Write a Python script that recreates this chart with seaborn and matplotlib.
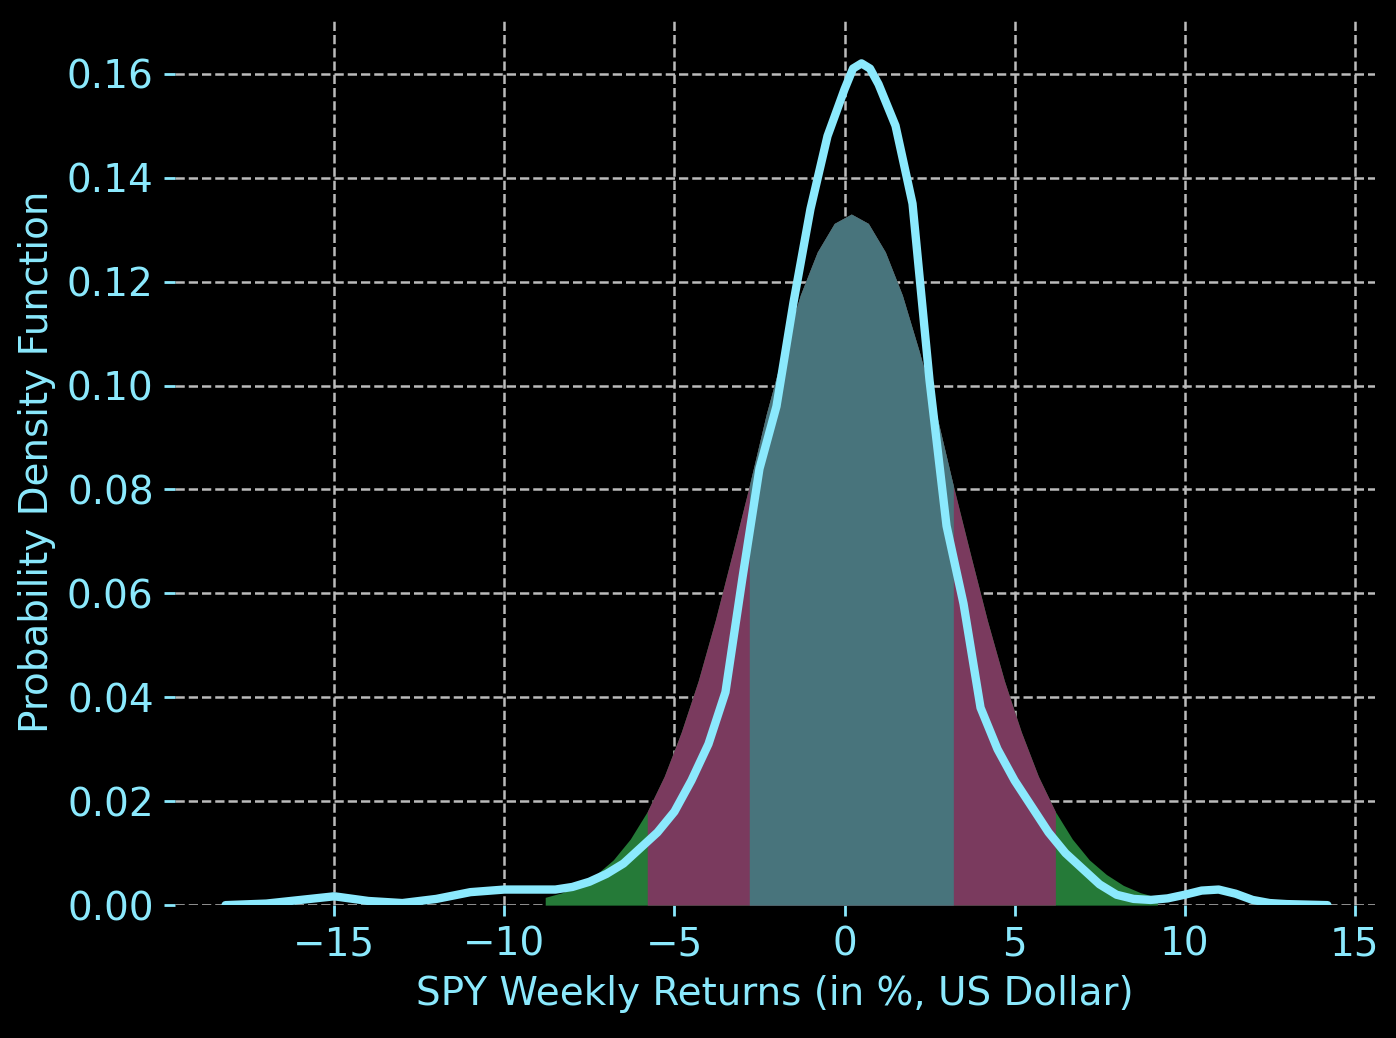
import numpy as np
import pandas as pd
import seaborn as sns
import matplotlib.pyplot as plt

norm_offset = [-9, -8.5, -8, -7.5, -7, -6.5, -6, -5.5, -5, -4.5, -4, -3.5, -3, -2.5, -2, -1.5, -1, -0.5,
               0, 0.5, 1, 1.5, 2, 2.5, 3, 3.5, 4, 4.5, 5, 5.5, 6, 6.5, 7, 7.5, 8, 8.5, 9]
norm_pdf = [0.0015, 0.0024, 0.0038, 0.0059, 0.0087, 0.0127, 0.0180, 0.0248, 0.0333, 0.0432, 0.0548,
            0.0676, 0.0807, 0.0945, 0.1065, 0.1174, 0.1257, 0.1312, 0.133, 0.1312, 0.1257, 0.1174,
            0.1065, 0.0945, 0.0807, 0.0676, 0.0548, 0.0432, 0.0333, 0.0248, 0.0180, 0.0127, 0.0087,
            0.0059, 0.0038, 0.0024, 0.0015]
norm_mean = 0.2
norm_sd = 3.0

# KDE of weekly returns
kde_x = [-18.2, -17, -16, -15, -14, -13, -12, -11, -10, -9, -8.5, -8, -7.5, -7, -6.5, -6, -5.5, -5,
         -4.5, -4, -3.5, -3, -2.5, -2, -1.5, -1, -0.5, 0, 0.25, 0.5, 0.75, 1, 1.5, 2, 2.5, 3, 3.5,
         4, 4.5, 5, 5.5, 6, 6.5, 7, 7.5, 8, 8.5, 9, 9.5, 10, 10.5, 11, 11.5, 12, 12.5, 13, 14.2]
kde_y = [0.0, 0.0003, 0.001, 0.0017, 0.0008, 0.0004, 0.0012, 0.0025, 0.003, 0.003, 0.003, 0.0035,
         0.0045, 0.006, 0.008, 0.011, 0.014, 0.018, 0.024, 0.031, 0.041, 0.063, 0.084, 0.096, 0.116,
         0.134, 0.148, 0.157, 0.161, 0.162, 0.161, 0.158, 0.150, 0.135, 0.101, 0.073, 0.058, 0.038,
         0.030, 0.024, 0.019, 0.014, 0.010, 0.007, 0.004, 0.002, 0.0012, 0.001, 0.0013, 0.002, 0.0028,
         0.003, 0.0022, 0.001, 0.0004, 0.0002, 0.0]

CYAN = '#8be9fd'
band_colors = ['#257a38', '#7a3a5e', '#48747c']

sns.set_theme(style='dark', rc={'axes.facecolor': 'black', 'figure.facecolor': 'black'})
plt.rcParams['font.family'] = ['DejaVu Sans']

fig, ax = plt.subplots(figsize=(6.98, 5.19), dpi=200)

nx = np.array(norm_offset)
ny = np.array(norm_pdf)
for k, col in zip([3, 2, 1], band_colors):
    m = np.abs(nx) <= k * norm_sd
    ax.fill_between(nx[m] + norm_mean, ny[m], color=col, lw=0)

df = pd.DataFrame({'x': kde_x, 'y': kde_y})
sns.lineplot(data=df, x='x', y='y', color=CYAN, lw=3, ax=ax)

ax.set_xticks([-15, -10, -5, 0, 5, 10, 15])
ax.set_yticks(np.arange(0, 0.17, 0.02))
ax.set_ylim(0, 0.1708)
ax.set_xlim(-19.7, 15.6)
ax.grid(True, ls='--', color='#bbbbbb', lw=0.9)
for s in ax.spines.values():
    s.set_visible(False)
ax.tick_params(colors=CYAN, labelsize=14, bottom=True, left=True, length=4, width=1)
ax.set_xlabel('SPY Weekly Returns (in %, US Dollar)', color=CYAN, fontsize=14)
ax.set_ylabel('Probability Density Function', color=CYAN, fontsize=14)
fig.subplots_adjust(left=0.125, right=0.985, top=0.983, bottom=0.128)
fig.savefig('out.png')
